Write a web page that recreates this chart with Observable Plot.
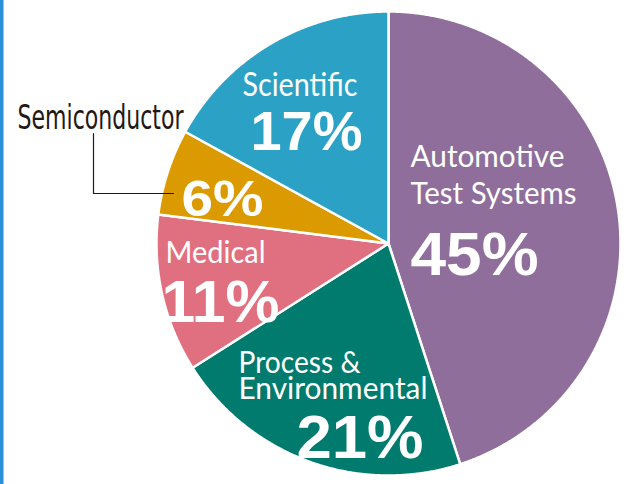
<!DOCTYPE html>
<html>
<head>
<meta charset="utf-8">
<script src="https://cdn.jsdelivr.net/npm/d3@7"></script>
<script src="https://cdn.jsdelivr.net/npm/@observablehq/plot@0.6"></script>
<style>
  html, body { margin: 0; padding: 0; background: #fff; }
  #chart { width: 631px; height: 484px; overflow: hidden; }
</style>
</head>
<body>
<div id="chart"></div>
<script>
// ---- data ----
const categories = ["Automotive Test Systems", "Process & Environmental", "Medical", "Semiconductor", "Scientific"];
const shares = [45, 21, 11, 6, 17];
const nameLines = [["Automotive", "Test Systems"], ["Process &", "Environmental"], ["Medical"], ["Semiconductor"], ["Scientific"]];
const colors = ["#8F6E9B", "#007B6E", "#E0707F", "#DB9A00", "#2BA1C5"];

// ---- layout (pixel space of the 631x484 canvas) ----
const W = 631, H = 484;
const center = {x: 388, y: 243}, radius = 232;
// per category: name block (left x, baseline of last line, line height in px, font size) and per-line target widths
const nameLayout = [
  {x: 410, y: 203, lh: 37, size: 31, w: [154, 166]},
  {x: 238, y: 398, lh: 26, size: 31, w: [122, 189]},
  {x: 165, y: 262, lh: 0, size: 31, w: [100]},
  {x: 17, y: 128, lh: 0, size: 34, w: [166]},
  {x: 242, y: 95, lh: 0, size: 32, w: [115]}
];
const pctLayout = [
  {x: 410, y: 274, w: 128, size: 62},
  {x: 296, y: 457, w: 127, size: 62},
  {x: 161, y: 321, w: 118, size: 60},
  {x: 181, y: 215, w: 82, size: 50},
  {x: 250, y: 149, w: 112, size: 55}
];
const leaderIndex = 3;

// ---- slice geometry via d3.pie ----
const rows = categories.map((c, i) => ({category: c, share: shares[i]}));
const arcs = d3.pie().sort(null).value(d => d.share)(rows);
const slicePts = [];
arcs.forEach(a => {
  const c = a.data.category;
  slicePts.push({category: c, x: center.x, y: center.y});
  const n = Math.max(2, Math.ceil((a.endAngle - a.startAngle) / 0.005));
  for (let k = 0; k <= n; k++) {
    const t = a.startAngle + (a.endAngle - a.startAngle) * k / n;
    slicePts.push({category: c, x: center.x + radius * Math.sin(t), y: center.y - radius * Math.cos(t)});
  }
});

// ---- labels ----
const widthByText = new Map();
const nameMarks = [];
nameLines.forEach((lines, i) => {
  const L = nameLayout[i];
  lines.forEach((t, j) => widthByText.set(t, L.w[j]));
  const isLeader = i === leaderIndex;
  nameMarks.push(Plot.text([{text: lines.join("\n"), x: L.x, y: L.y}], {
    x: "x", y: "y", text: "text", textAnchor: "start", lineAnchor: "bottom",
    lineHeight: lines.length > 1 ? L.lh / L.size : 1,
    fill: isLeader ? "#231815" : "white", fontSize: L.size,
    fontFamily: isLeader ? "'Liberation Sans Narrow', 'DejaVu Sans Condensed', sans-serif" : "Lato, 'Liberation Sans', sans-serif"
  }));
});
const pctLabels = shares.map((s, i) => ({text: s + "%", ...pctLayout[i]}));
pctLabels.forEach(d => widthByText.set(d.text, d.w));
const semi = nameLayout[leaderIndex];
const leader = [
  {x: semi.x + 76, y: semi.y + 5},
  {x: semi.x + 76, y: semi.y + 65},
  {x: semi.x + 156, y: semi.y + 65}
];

const svg = Plot.plot({
  width: W, height: H,
  margin: 0,
  x: {domain: [0, W], range: [0, W], axis: null},
  y: {domain: [0, H], range: [0, H], axis: null},
  color: {domain: categories, range: colors},
  style: {background: "white", overflow: "hidden"},
  marks: [
    Plot.frame({anchor: "left", stroke: "#2A8FD6", strokeWidth: 6}),
    Plot.line(slicePts, {x: "x", y: "y", z: "category", fill: "category", stroke: "white", strokeWidth: 2.5, strokeLinejoin: "miter", curve: "linear-closed"}),
    Plot.line(leader, {x: "x", y: "y", stroke: "#231815", strokeWidth: 1.2}),
    ...nameMarks,
    Plot.text(pctLabels, {x: "x", y: "y", text: "text", textAnchor: "start", lineAnchor: "bottom", fill: "white", fontSize: "size", fontWeight: "bold", fontFamily: "'Liberation Sans', Arial, sans-serif"})
  ]
});

// fit label widths to the reference
d3.select(svg).selectAll("text, tspan").each(function() {
  if (this.tagName === "text" && this.querySelector("tspan")) return;
  const w = widthByText.get(this.textContent);
  if (w) { this.setAttribute("textLength", w); this.setAttribute("lengthAdjust", "spacingAndGlyphs"); }
});

document.getElementById("chart").appendChild(svg);
</script>
</body>
</html>
